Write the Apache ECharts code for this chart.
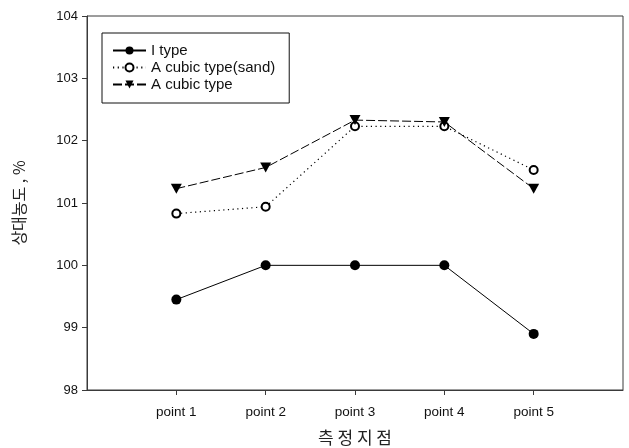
<!DOCTYPE html>
<html>
<head>
<meta charset="utf-8">
<script src="https://cdn.jsdelivr.net/npm/echarts@6/dist/echarts.min.js"></script>
<style>
  html, body { margin: 0; padding: 0; background: #fff; }
  #chart { width: 629px; height: 448px; }
</style>
</head>
<body>
<div id="chart"></div>
<script>
// Measurement points along the x axis
const pointPositions = [1, 2, 3, 4, 5];
const pointLabels = ['point 1', 'point 2', 'point 3', 'point 4', 'point 5'];

// Relative concentration (%) per measurement point
const iType = [99.45, 100.0, 100.0, 100.0, 98.9];
const cubicSand = [100.83, 100.94, 102.23, 102.23, 101.53];
const cubicType = [101.23, 101.57, 102.33, 102.30, 101.23];

const yTicks = [98, 99, 100, 101, 102, 103, 104];

const pairs = vals => vals.map((v, i) => [pointPositions[i], v]);
const axisColor = '#3a3a3a';
const latin = '"Liberation Sans", Arial, sans-serif';
const hangul = '"Noto Sans CJK KR", sans-serif';

const chart = echarts.init(document.getElementById('chart'), null, { renderer: 'canvas' });
chart.setOption({
  animation: false,
  backgroundColor: '#fff',
  grid: {
    left: 87, right: 6, top: 16, bottom: 58,
    outerBoundsMode: 'none',
    show: true, borderColor: axisColor, borderWidth: 1, backgroundColor: 'transparent'
  },
  legend: {
    left: 102, top: 33,
    orient: 'vertical',
    padding: [10, 14, 11, 10],
    borderColor: '#111', borderWidth: 1,
    itemWidth: 33, itemHeight: 10, itemGap: 2,
    textStyle: { fontFamily: latin, fontSize: 15, color: '#111' },
    data: ['I type', 'A cubic type(sand)', 'A cubic type']
  },
  xAxis: {
    type: 'value',
    min: 0, max: 6, interval: 1,
    name: '측 정 지 점',
    nameLocation: 'middle',
    nameGap: 39,
    nameTextStyle: { fontFamily: hangul, fontSize: 17, color: '#222' },
    axisLine: { show: true, lineStyle: { color: axisColor, width: 1 } },
    axisTick: { show: true, inside: false, length: 5, customValues: pointPositions, lineStyle: { color: axisColor } },
    axisLabel: {
      customValues: pointPositions,
      formatter: v => pointLabels[pointPositions.indexOf(v)] || '',
      fontFamily: latin, fontSize: 13.5, color: '#111', margin: 15
    },
    splitLine: { show: false }
  },
  yAxis: {
    type: 'value',
    min: yTicks[0], max: yTicks[yTicks.length - 1], interval: 1,
    name: '상대농도 , %',
    nameLocation: 'middle',
    nameGap: 60,
    nameRotate: 90,
    nameTextStyle: { fontFamily: hangul, fontSize: 16, color: '#222' },
    axisLine: { show: true, lineStyle: { color: axisColor, width: 1 } },
    axisTick: { show: true, inside: false, length: 5, lineStyle: { color: axisColor } },
    axisLabel: { fontFamily: latin, fontSize: 13, color: '#111', margin: 9 },
    splitLine: { show: false }
  },
  series: [
    {
      name: 'I type', type: 'line',
      data: pairs(iType),
      symbol: 'circle', symbolSize: 10,
      itemStyle: { color: '#000' },
      lineStyle: { color: '#000', width: 1, type: 'solid' }
    },
    {
      name: 'A cubic type(sand)', type: 'line',
      data: pairs(cubicSand),
      symbol: 'emptyCircle', symbolSize: 8,
      itemStyle: { color: '#000', borderColor: '#000', borderWidth: 1 },
      lineStyle: { color: '#000', width: 1.2, type: [1.2, 3.5] }
    },
    {
      name: 'A cubic type', type: 'line',
      data: pairs(cubicType),
      symbol: 'triangle', symbolSize: [11, 10], symbolRotate: 180,
      itemStyle: { color: '#000' },
      lineStyle: { color: '#000', width: 1, type: [9, 3] }
    }
  ]
});
</script>
</body>
</html>
